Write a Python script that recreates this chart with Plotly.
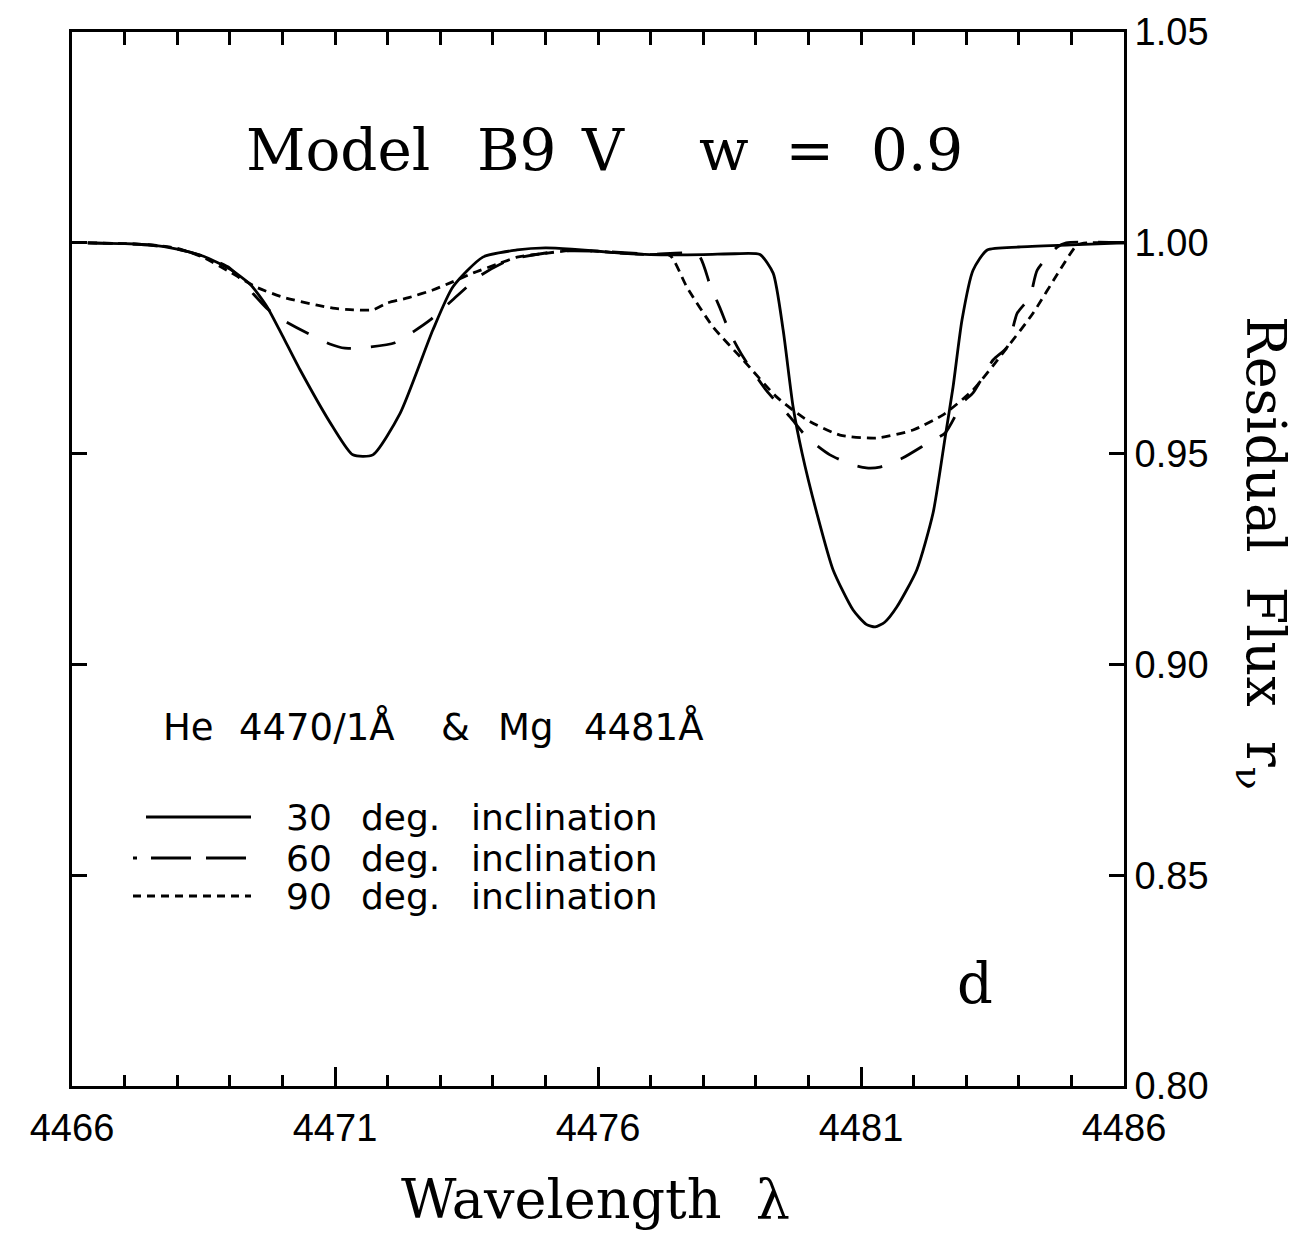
import plotly.graph_objects as go

# ---- data ----
wl_30 = [4466.3, 4467.0, 4467.5, 4468.0, 4468.5, 4469.0, 4469.4, 4469.71, 4470.0, 4470.33,
         4470.96, 4471.34, 4471.72, 4472.24, 4472.86, 4473.24, 4473.81, 4474.46, 4475.0,
         4475.5, 4476.0, 4476.5, 4477.0, 4478.0, 4478.6, 4479.08, 4479.33, 4479.52, 4479.71,
         4479.88, 4480.16, 4480.47, 4480.85, 4481.1, 4481.27, 4481.45, 4481.68, 4482.06,
         4482.37, 4482.6, 4482.75, 4482.92, 4483.13, 4483.4, 4484.0, 4485.0, 4486.0]
flux_30 = [1.000, 0.9998, 0.9995, 0.9985, 0.9968, 0.9938, 0.990, 0.9848, 0.978, 0.970,
           0.9563, 0.9497, 0.9497, 0.9596, 0.9793, 0.9895, 0.9966, 0.9983, 0.9988,
           0.9985, 0.998, 0.9975, 0.9972, 0.9972, 0.9974, 0.9972, 0.9928, 0.9793, 0.961,
           0.9501, 0.9359, 0.9224, 0.9129, 0.9095, 0.9089, 0.910, 0.9136, 0.9224,
           0.9359, 0.9539, 0.9658, 0.9817, 0.9935, 0.9983, 0.9990, 0.9995, 1.000]

wl_60 = [4466.3, 4467.0, 4467.5, 4468.0, 4468.5, 4469.0, 4469.38, 4469.7, 4470.01, 4470.47,
         4470.9, 4471.19, 4471.6, 4472.14, 4472.5, 4472.81, 4473.24, 4473.76, 4474.33,
         4475.28, 4476.0, 4477.0, 4477.9, 4478.13, 4478.32, 4478.51, 4478.76, 4479.2,
         4479.65, 4479.97, 4480.41, 4480.85, 4481.1, 4481.36, 4481.8, 4482.27, 4482.6,
         4482.94, 4483.13, 4483.51, 4483.78, 4483.97, 4484.21, 4484.35, 4484.73, 4484.9, 4486.0]
flux_60 = [1.000, 0.9998, 0.9994, 0.9985, 0.9968, 0.994, 0.9888, 0.9845, 0.9817, 0.9786,
           0.976, 0.975, 0.9752, 0.9763, 0.979, 0.9817, 0.9865, 0.9922, 0.996,
           0.998, 0.998, 0.9973, 0.9972, 0.990, 0.9845, 0.9786, 0.9729, 0.965,
           0.9587, 0.9539, 0.9497, 0.9473, 0.9466, 0.9468, 0.949, 0.9525, 0.9549,
           0.9622, 0.9644, 0.9722, 0.9753, 0.9833, 0.9871, 0.9935, 0.999, 1.000, 1.000]

wl_90 = [4466.3, 4467.0, 4467.5, 4468.0, 4468.5, 4469.0, 4469.5, 4470.01, 4470.66, 4470.96,
         4471.35, 4471.72, 4471.99, 4472.4, 4472.86, 4473.19, 4473.62, 4474.14, 4474.46,
         4475.0, 4475.5, 4476.0, 4476.5, 4477.0, 4477.37, 4477.69, 4478.19, 4478.76,
         4479.4, 4479.97, 4480.6, 4481.3, 4481.99, 4482.56, 4483.13, 4483.7, 4484.27,
         4484.78, 4485.11, 4485.3, 4486.0]
flux_90 = [1.000, 0.9998, 0.9995, 0.9987, 0.9965, 0.9931, 0.9895, 0.9871, 0.9852, 0.9845,
           0.9841, 0.9841, 0.9857, 0.987, 0.9888, 0.9905, 0.9928, 0.9952, 0.9966,
           0.9975, 0.9982, 0.998, 0.9975, 0.9972, 0.997, 0.9895, 0.980, 0.9722,
           0.9634, 0.958, 0.9544, 0.9537, 0.9556, 0.9592, 0.9651, 0.9739, 0.9833,
           0.9935, 0.9995, 1.000, 1.000]

x_ticks = [4466, 4471, 4476, 4481, 4486]
y_ticks = [0.80, 0.85, 0.90, 0.95, 1.00, 1.05]
inclinations = ["30", "60", "90"]

# ---- styling ----
W, H = 1297, 1233
L, R, T, B = 72, 1297 - 1124, 32, 1233 - 1086
pw, ph = W - L - R, H - T - B
def px(x):                    # page pixel -> paper
    return (x - L) / pw
def py(y):
    return (H - B - y) / ph

SERIF = "DejaVu Serif"
SANS = "DejaVu Sans"
INK = "black"
dashes = ["solid", "25px,20px", "9px,6px"]

fig = go.Figure()
for wl, fl, inc, d in zip([wl_30, wl_60, wl_90], [flux_30, flux_60, flux_90], inclinations, dashes):
    fig.add_trace(go.Scatter(x=wl, y=fl, mode="lines", name=inc + " deg. inclination", showlegend=False,
                             line=dict(color=INK, width=2.8, dash=d, shape="spline", smoothing=0.6)))
# empty trace to activate the top axis
fig.add_trace(go.Scatter(x=[], y=[], xaxis="x2", yaxis="y", showlegend=False, hoverinfo="skip"))

fig.update_layout(
    width=W, height=H,
    margin=dict(l=L, r=R, t=T, b=B, autoexpand=False),
    paper_bgcolor="white", plot_bgcolor="white",
    xaxis=dict(range=[4466, 4486], tickvals=x_ticks, ticktext=[str(v) for v in x_ticks],
               ticks="inside", ticklen=19, tickwidth=2.5, tickcolor=INK, automargin=False,
               minor=dict(dtick=1, tick0=4466, ticks="inside", ticklen=11, tickwidth=2.5, tickcolor=INK),
               showline=True, linewidth=3, linecolor=INK, showgrid=False, zeroline=False,
               tickfont=dict(family="Liberation Sans", size=38, color=INK), ticklabelstandoff=6),
    xaxis2=dict(range=[4466, 4486], overlaying="x", side="top", anchor="y", automargin=False,
                dtick=1, tick0=4466, ticks="inside", ticklen=13, tickwidth=2.5, tickcolor=INK,
                showticklabels=False, showline=True, linewidth=3, linecolor=INK,
                showgrid=False, zeroline=False),
    yaxis=dict(range=[0.80, 1.05], side="right", tickvals=y_ticks, automargin=False,
               ticktext=[f"{v:.2f}" for v in y_ticks],
               ticks="inside", ticklen=15, tickwidth=2.5, tickcolor=INK, mirror="ticks",
               showline=True, linewidth=3, linecolor=INK, showgrid=False, zeroline=False,
               tickfont=dict(family="Liberation Sans", size=38, color=INK), ticklabelstandoff=0),
)

ann = []
def add_text(text, x, y, size, family, xanchor="left", **kw):
    ann.append(dict(text=text, x=px(x), y=py(y), xanchor=xanchor, yanchor="middle",
                    xref="paper", yref="paper", showarrow=False, borderpad=0,
                    font=dict(family=family, size=size, color=INK), **kw))

add_text("Model", 245, 150, 58, SERIF)
add_text("B9", 476, 150, 58, SERIF)
add_text("V", 580, 150, 58, SERIF)
add_text("w  =  0.9", 698, 150, 58, SERIF)
for t, x in zip(["He", "4470/1Å", "&", "Mg", "4481Å"], [162, 238, 440, 497, 583]):
    add_text(t, x, 727, 37, SANS)
rows_y = [817, 858, 896]
for inc, yy in zip(inclinations, rows_y):
    add_text(inc, 285, yy, 36, SANS)
    add_text("deg.", 360, yy, 36, SANS)
    add_text("inclination", 470, yy, 36, SANS)
add_text("d", 975, 983, 56, SERIF, xanchor="center")
add_text("Wavelength  λ", 595, 1199, 54, SERIF, xanchor="center")
add_text("Residual  Flux  r<sub>ν</sub>", 1262, 553, 54, SERIF, xanchor="center", textangle=90)
fig.update_layout(annotations=ann)

# legend key samples
key_dash = ["solid", "4px,14px,40px,15px,40px,200px", "8px,6px"]
key_x0 = [146, 133, 133]
for d, x0, yy in zip(key_dash, key_x0, rows_y):
    fig.add_shape(type="line", xref="paper", yref="paper", x0=px(x0), x1=px(251), y0=py(yy), y1=py(yy),
                  line=dict(color=INK, width=2.8, dash=d))

fig.write_html("out.html", config={"displayModeBar": False},
               post_script="document.body.style.margin='0';document.body.style.overflow='hidden';")
